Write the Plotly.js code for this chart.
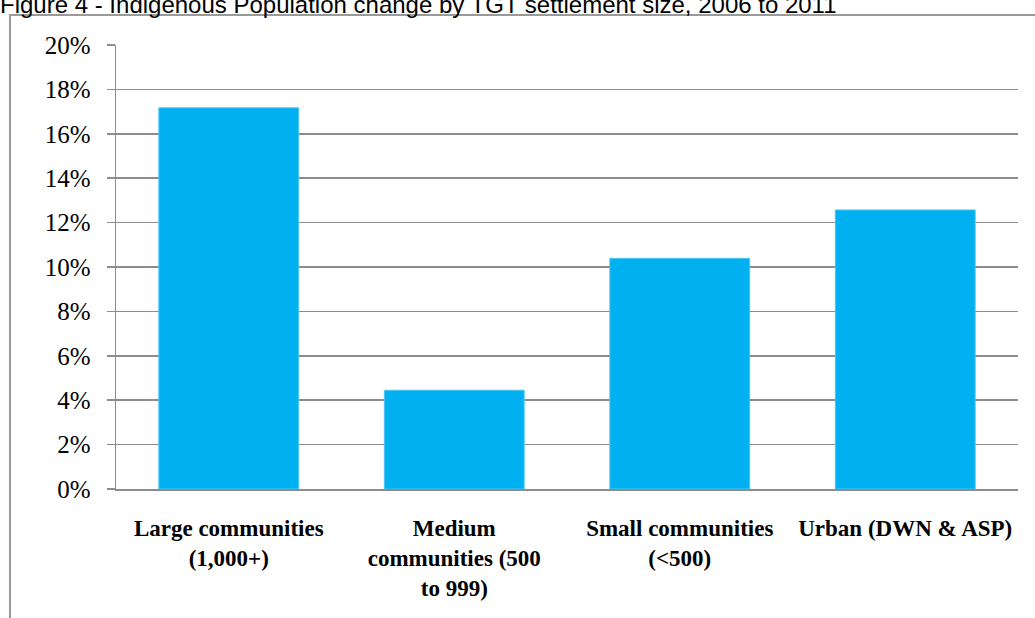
<!DOCTYPE html>
<html>
<head>
<meta charset="utf-8">
<script src="https://cdn.plot.ly/plotly-3.0.1.min.js"></script>
<style>
  html, body { margin: 0; padding: 0; width: 1035px; height: 618px; overflow: hidden; background: #fff; }
  #frame { position: absolute; left: 9px; top: 14px; width: 1200px; height: 800px;
           border-left: 2px solid #9a9a9a; border-top: 2px solid #9a9a9a; }
  #chart { position: absolute; left: 0; top: 0; width: 1035px; height: 618px; }
</style>
</head>
<body>
<div id="frame"></div>
<div id="chart"></div>
<script>
const categories = [
  "Large communities<br>(1,000+)",
  "Medium<br>communities (500<br>to 999)",
  "Small communities<br>(&lt;500)",
  "Urban (DWN &amp; ASP)"
];
const popChange = [0.1717, 0.0445, 0.1039, 0.1257];
const titleText = "Figure 4 - Indigenous Population change by TGT settlement size, 2006 to 2011";

const trace = {
  type: "bar",
  x: categories,
  y: popChange,
  marker: { color: "#00b0f0", line: { color: "#4cc6f3", width: 1 } },
  hoverinfo: "none"
};

const layout = {
  width: 1035,
  height: 618,
  paper_bgcolor: "rgba(0,0,0,0)",
  plot_bgcolor: "rgba(0,0,0,0)",
  margin: { l: 116, r: 17, t: 45, b: 129 },
  bargap: 0.38,
  showlegend: false,
  title: {
    text: titleText,
    font: { family: "Liberation Sans, Arial, sans-serif", size: 24, color: "#000" },
    xref: "container", x: 0, xanchor: "left",
    yref: "container", y: 1 - 13 / 618, yanchor: "bottom",
    pad: { l: 0, t: 0, b: 0, r: 0 }
  },
  xaxis: {
    range: [-0.5, 3.5],
    showline: true, linecolor: "#8c8c8c", linewidth: 1.5,
    ticks: "", showgrid: false,
    tickfont: { family: "Liberation Serif, Times New Roman, serif", size: 23, color: "#000", weight: "bold" },
    ticklabelstandoff: 18
  },
  yaxis: {
    range: [0, 0.2],
    dtick: 0.02,
    tickformat: ".0%",
    showline: true, linecolor: "#8c8c8c", linewidth: 1.5,
    ticks: "outside", ticklen: 8, tickcolor: "#8c8c8c", tickwidth: 1.5,
    showgrid: true, gridcolor: "#8c8c8c", gridwidth: 1.5,
    zeroline: false,
    tickfont: { family: "Liberation Serif, Times New Roman, serif", size: 25, color: "#000" },
    ticklabelstandoff: 11
  }
};

Plotly.newPlot("chart", [trace], layout, { staticPlot: true, displayModeBar: false });
</script>
</body>
</html>
